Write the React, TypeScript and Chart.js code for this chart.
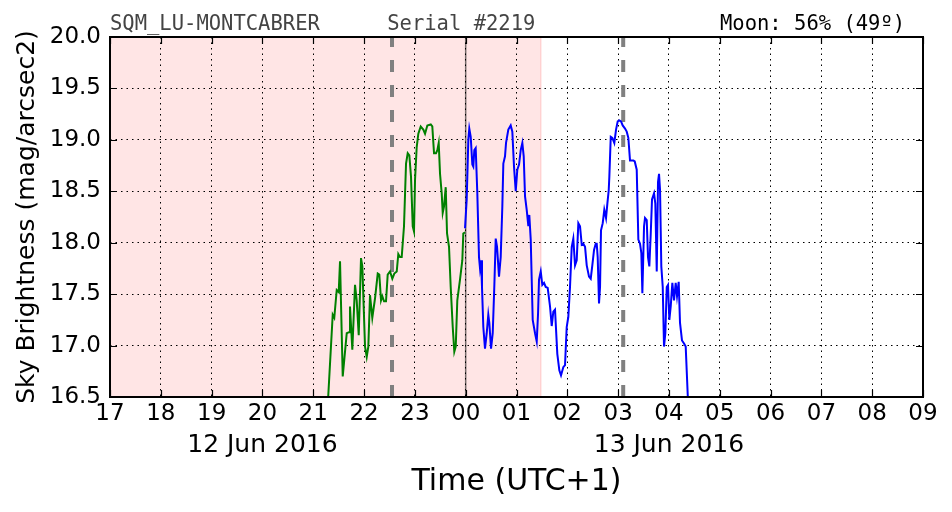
import { useEffect, useRef } from 'react';
import { Chart, registerables } from 'chart.js';

Chart.register(...registerables);

// ---- data (hours since 00:00 of 12 Jun 2016, values in mag/arcsec2) ----
const greenHours = [
  21.280, 21.296, 21.383, 21.414, 21.462, 21.501, 21.527, 21.580, 21.659, 21.704, 21.723, 21.769,
  21.822, 21.855, 21.895, 21.940, 21.966, 22.019, 22.052, 22.084, 22.117, 22.162, 22.216, 22.269,
  22.300, 22.334, 22.359, 22.393, 22.432, 22.465, 22.511, 22.556, 22.595, 22.643, 22.674, 22.708,
  22.741, 22.786, 22.826, 22.859, 22.891, 22.924, 22.958, 22.983, 23.003, 23.036, 23.068, 23.115,
  23.166, 23.200, 23.245, 23.312, 23.343, 23.377, 23.416, 23.442, 23.469, 23.495, 23.528, 23.548,
  23.573, 23.607, 23.633, 23.672, 23.705, 23.745, 23.776, 23.804, 23.835, 23.888, 23.934, 23.953,
  23.987,
];
const greenValues = [
  16.35, 16.52, 17.30, 17.27, 17.54, 17.52, 17.82, 16.70, 17.12, 17.13, 17.38, 16.96,
  17.59, 17.44, 17.10, 17.85, 17.77, 16.99, 16.89, 16.99, 17.49, 17.27, 17.46, 17.70,
  17.69, 17.44, 17.48, 17.43, 17.43, 17.69, 17.72, 17.65, 17.70, 17.72, 17.89, 17.86,
  17.86, 18.16, 18.77, 18.87, 18.85, 18.64, 18.16, 18.11, 18.61, 18.93, 19.06, 19.13,
  19.10, 19.06, 19.14, 19.15, 19.13, 18.87, 18.87, 18.90, 18.97, 18.67, 18.48, 18.29,
  18.35, 18.54, 18.09, 17.96, 17.57, 17.18, 16.94, 16.99, 17.44, 17.64, 17.83, 18.09,
  18.10,
];
const blueHours = [
  23.987, 24.020, 24.052, 24.071, 24.099, 24.131, 24.150, 24.170, 24.197, 24.229, 24.262, 24.282,
  24.302, 24.321, 24.347, 24.380, 24.414, 24.445, 24.465, 24.499, 24.532, 24.563, 24.591, 24.617,
  24.656, 24.689, 24.721, 24.741, 24.774, 24.794, 24.839, 24.886, 24.918, 24.951, 24.985, 25.016,
  25.050, 25.083, 25.115, 25.142, 25.168, 25.201, 25.233, 25.252, 25.280, 25.319, 25.365, 25.398,
  25.424, 25.443, 25.477, 25.508, 25.542, 25.575, 25.614, 25.660, 25.693, 25.725, 25.758, 25.803,
  25.843, 25.876, 25.921, 25.955, 25.988, 26.020, 26.053, 26.087, 26.118, 26.152, 26.185, 26.217,
  26.250, 26.284, 26.315, 26.349, 26.382, 26.427, 26.461, 26.492, 26.526, 26.559, 26.579, 26.598,
  26.624, 26.644, 26.663, 26.697, 26.728, 26.762, 26.788, 26.815, 26.827, 26.855, 26.886, 26.925,
  26.959, 26.992, 27.023, 27.057, 27.090, 27.136, 27.169, 27.201, 27.234, 27.268, 27.299, 27.327,
  27.366, 27.398, 27.431, 27.457, 27.477, 27.510, 27.529, 27.563, 27.588, 27.614, 27.642, 27.667,
  27.707, 27.732, 27.760, 27.785, 27.805, 27.825, 27.850, 27.878, 27.903, 27.929, 27.957, 27.982,
  28.008, 28.035, 28.067, 28.100, 28.133, 28.159, 28.192, 28.218, 28.257, 28.297, 28.330, 28.370,
  28.385,
];
const blueValues = [
  18.14, 18.42, 19.00, 19.11, 19.03, 18.76, 18.74, 18.90, 18.92, 18.48, 17.86, 17.75,
  17.83, 17.57, 17.18, 16.97, 17.12, 17.30, 17.22, 16.97, 17.12, 17.57, 18.04, 17.96,
  17.67, 17.86, 18.35, 18.77, 18.84, 18.97, 19.10, 19.14, 19.08, 18.74, 18.50, 18.71,
  18.76, 18.90, 18.97, 18.84, 18.45, 18.32, 18.16, 18.27, 18.03, 17.25, 17.12, 17.04,
  17.31, 17.64, 17.72, 17.59, 17.61, 17.57, 17.56, 17.38, 17.19, 17.33, 17.35, 16.92,
  16.76, 16.71, 16.79, 16.81, 17.18, 17.28, 17.57, 17.96, 18.04, 17.78, 17.83, 18.19,
  18.16, 17.98, 17.99, 17.96, 17.78, 17.67, 17.65, 17.78, 17.93, 17.99, 17.99, 17.86,
  17.41, 17.57, 18.12, 18.19, 18.32, 18.24, 18.38, 18.51, 18.64, 19.03, 19.02, 18.97,
  19.10, 19.18, 19.19, 19.18, 19.14, 19.11, 19.08, 19.02, 18.80, 18.80, 18.80, 18.79,
  18.71, 18.03, 17.99, 17.90, 17.51, 18.16, 18.24, 18.22, 17.86, 17.77, 18.09, 18.42,
  18.48, 18.38, 17.72, 18.59, 18.67, 18.51, 17.77, 17.57, 16.99, 17.12, 17.57, 17.59,
  17.25, 17.38, 17.61, 17.44, 17.61, 17.48, 17.62, 17.22, 17.05, 17.02, 16.99, 16.52,
  16.35,
];

const hourTicks = [17, 18, 19, 20, 21, 22, 23, 24, 25, 26, 27, 28, 29, 30, 31, 32, 33];
const hourLabels = ['17', '18', '19', '20', '21', '22', '23', '00', '01', '02', '03', '04', '05', '06', '07', '08', '09'];
const dateTickHours = [20, 28];
const dateLabels = ['12 Jun 2016', '13 Jun 2016'];

const xMin = 17;
const xMax = 33;
const yMin = 16.5;
const yMax = 20.0;
const yStep = 0.5;

const shadeFrom = 17;
const shadeTo = 25.48;
const dashedHours = [22.55, 27.1];
const midnightHour = 24;

const titleLeft = 'SQM_LU-MONTCABRER';
const titleMid = 'Serial #2219';
const titleRight = 'Moon: 56% (49º)';
const yTitle = 'Sky Brightness (mag/arcsec2)';
const xTitle = 'Time (UTC+1)';

const SANS = '"DejaVu Sans", sans-serif';
const MONO = '"DejaVu Sans Mono", monospace';

const decorPlugin = {
  id: 'decor',
  beforeDraw(chart: any) {
    const { ctx, chartArea: a, scales } = chart;
    const x = scales.x;
    ctx.save();
    const x0 = x.getPixelForValue(shadeFrom);
    const x1 = x.getPixelForValue(shadeTo);
    ctx.fillStyle = 'rgba(255, 0, 0, 0.1)';
    ctx.fillRect(x0, a.top, x1 - x0, a.bottom - a.top);
    ctx.strokeStyle = 'rgba(255, 0, 0, 0.12)';
    ctx.lineWidth = 1.5;
    ctx.beginPath();
    ctx.moveTo(x1, a.top);
    ctx.lineTo(x1, a.bottom);
    ctx.stroke();
    ctx.restore();
  },
  afterDraw(chart: any) {
    const { ctx, chartArea: a, scales } = chart;
    const x = scales.x;
    const y = scales.y;
    ctx.save();
    // inward ticks
    ctx.strokeStyle = '#000';
    ctx.lineWidth = 1.2;
    const tl = 7;
    ctx.beginPath();
    hourTicks.forEach((h) => {
      const px = Math.round(x.getPixelForValue(h)) + 0.5;
      ctx.moveTo(px, a.bottom);
      ctx.lineTo(px, a.bottom - tl);
      ctx.moveTo(px, a.top);
      ctx.lineTo(px, a.top + tl);
    });
    for (let v = yMin; v <= yMax + 1e-9; v += yStep) {
      const py = Math.round(y.getPixelForValue(v)) + 0.5;
      ctx.moveTo(a.left, py);
      ctx.lineTo(a.left + tl, py);
      ctx.moveTo(a.right, py);
      ctx.lineTo(a.right - tl, py);
    }
    ctx.stroke();
    // frame
    ctx.lineWidth = 2;
    ctx.strokeRect(a.left, a.top, a.right - a.left, a.bottom - a.top);
    // header texts
    ctx.font = '20.5px ' + MONO;
    ctx.textBaseline = 'alphabetic';
    ctx.fillStyle = '#444';
    ctx.textAlign = 'left';
    ctx.fillText(titleLeft, a.left, 30);
    ctx.fillText(titleMid, a.left + (a.right - a.left) * 0.341, 30);
    ctx.fillStyle = '#000';
    ctx.textAlign = 'right';
    ctx.fillText(titleRight, a.left + (a.right - a.left) * 0.978, 30);
    ctx.restore();
  },
};

export default function App() {
  const ref = useRef<HTMLCanvasElement | null>(null);
  useEffect(() => {
    document.body.style.margin = '0';
    const canvas = ref.current;
    if (!canvas) return;
    const vline = (h: number) => [
      { x: h, y: yMin },
      { x: h, y: yMax },
    ];
    const chart = new Chart(canvas, {
      type: 'line',
      data: {
        datasets: [
          {
            data: greenHours.map((h, i) => ({ x: h, y: greenValues[i] })),
            borderColor: '#008000',
            borderWidth: 2,
            pointRadius: 0,
            tension: 0,
          },
          {
            data: blueHours.map((h, i) => ({ x: h, y: blueValues[i] })),
            borderColor: '#0000ff',
            borderWidth: 2,
            pointRadius: 0,
            tension: 0,
          },
          {
            data: vline(midnightHour),
            borderColor: 'rgba(0,0,0,0.55)',
            borderWidth: 1.5,
            pointRadius: 0,
          },
          ...dashedHours.map((h) => ({
            data: vline(h),
            borderColor: '#808080',
            borderWidth: 4,
            borderDash: [12, 13],
            pointRadius: 0,
          })),
        ],
      },
      options: {
        responsive: false,
        animation: false,
        events: [],
        layout: { padding: { top: 37, right: 29, left: 0, bottom: 0 } },
        plugins: { legend: { display: false }, tooltip: { enabled: false }, title: { display: false } },
        scales: {
          x: {
            type: 'linear',
            position: 'bottom',
            weight: 0,
            min: xMin,
            max: xMax,
            afterFit: (s: any) => {
              s.height = 30;
            },
            ticks: {
              stepSize: 1,
              autoSkip: false,
              maxRotation: 0,
              padding: 3,
              color: '#000',
              font: { family: SANS, size: 23, lineHeight: 1.2 },
              callback: (value: any) => {
                const i = hourTicks.indexOf(Number(value));
                return i >= 0 ? hourLabels[i] : '';
              },
            },
            grid: { color: '#000', lineWidth: 1, drawTicks: false },
            border: { display: false, dash: [1.5, 4] },
          },
          x2: {
            type: 'linear',
            position: 'bottom',
            weight: 1,
            min: xMin,
            max: xMax,
            afterBuildTicks: (s: any) => {
              s.ticks = dateTickHours.map((v) => ({ value: v }));
            },
            afterFit: (s: any) => {
              s.height = 85;
            },
            ticks: {
              autoSkip: false,
              maxRotation: 0,
              padding: 3,
              color: '#000',
              font: { family: SANS, size: 25, lineHeight: 1.2 },
              callback: (value: any) => {
                const d = dateTickHours.indexOf(Number(value));
                return d >= 0 ? dateLabels[d] : '';
              },
            },
            grid: { display: false, drawTicks: false },
            border: { display: false },
            title: {
              display: true,
              text: xTitle,
              color: '#000',
              font: { family: SANS, size: 30, lineHeight: 1.2 },
              padding: { top: 0, bottom: 12 },
            },
          },
          y: {
            type: 'linear',
            min: yMin,
            max: yMax,
            afterFit: (s: any) => {
              s.width = 110;
            },
            ticks: {
              stepSize: yStep,
              padding: 9,
              color: '#000',
              font: { family: SANS, size: 23 },
              callback: (value: any) => Number(value).toFixed(1),
            },
            grid: { color: '#000', lineWidth: 1, drawTicks: false },
            border: { display: false, dash: [1.5, 4] },
            title: {
              display: true,
              text: yTitle,
              color: '#000',
              font: { family: SANS, size: 25, lineHeight: 1.2 },
              padding: { top: 12, bottom: 0 },
            },
          },
        },
      },
      plugins: [decorPlugin],
    });
    return () => chart.destroy();
  }, []);
  return <canvas ref={ref} width={952} height={512} style={{ display: 'block' }} />;
}
